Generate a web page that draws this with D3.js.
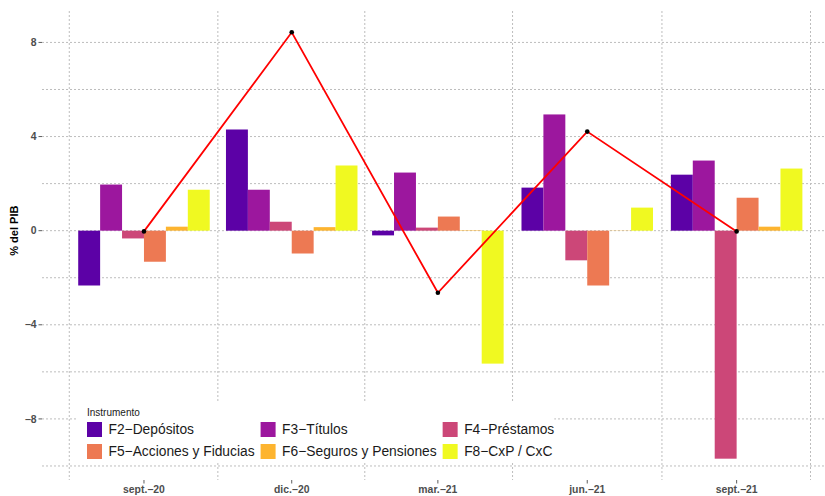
<!DOCTYPE html>
<html>
<head>
<meta charset="utf-8">
<script src="https://cdn.jsdelivr.net/npm/d3@7"></script>
<style>
  body { margin: 0; background: #fff; }
  svg { display: block; font-family: "Liberation Sans", Arial, Helvetica, sans-serif; }
  .grid line { stroke: #bdbdbd; stroke-width: 1; stroke-dasharray: 2,2; }
  .tick-label { fill: #4d4d4d; font-weight: bold; font-size: 10.4px; }
</style>
</head>
<body>
<svg id="chart"></svg>
<script>
// data (% del PIB)
var periodLabels = ["sept.\u221220", "dic.\u221220", "mar.\u221221", "jun.\u221221", "sept.\u221221"];
var periodDates = ["2020-09-01", "2020-12-01", "2021-03-01", "2021-06-01", "2021-09-01"];
var instruments = ["F2\u2212Dep\u00f3sitos", "F3\u2212T\u00edtulos", "F4\u2212Pr\u00e9stamos",
                   "F5\u2212Acciones y Fiducias", "F6\u2212Seguros y Pensiones", "F8\u2212CxP / CxC"];
var instrumentColors = ["#5c01a6", "#9c179e", "#cc4778", "#ed7953", "#fdb42f", "#f0f921"];
var f2 = [-2.33, 4.30, -0.20, 1.83, 2.38];
var f3 = [1.96, 1.74, 2.47, 4.94, 2.98];
var f4 = [-0.33, 0.38, 0.13, -1.26, -9.69];
var f5 = [-1.32, -0.97, 0.60, -2.33, 1.40];
var f6 = [0.17, 0.15, 0.02, 0.01, 0.17];
var f8 = [1.74, 2.77, -5.65, 0.98, 2.64];
var total = [-0.03, 8.43, -2.64, 4.21, -0.03];
var yTicks = [-8, -4, 0, 4, 8];

var series = [f2, f3, f4, f5, f6, f8];
var parseDate = d3.timeParse("%Y-%m-%d");
var dates = periodDates.map(parseDate);

var rows = [];
dates.forEach(function (d, i) {
    series.forEach(function (s, j) {
        rows.push({ date: d, key: instruments[j], value: s[i] });
    });
});

//layout
var svgWidth = 825, svgHeight = 496;
var panel = { left: 42, top: 11, bottom: 480 };
var DAY = 864e5;
var halfBar = 0.9 * 90 / 2; // days (ggplot width = 0.9 * resolution)

var xMin = +dates[0] - halfBar * DAY, xMax = +dates[dates.length - 1] + halfBar * DAY;
var xPad = (xMax - xMin) * 0.05;
var x = d3.scaleTime()
    .domain([new Date(xMin - xPad), new Date(xMax + xPad)])
    .range([panel.left, 838.6]);

var allVals = rows.map(function (r) { return r.value; }).concat(total);
var yMin = d3.min(allVals), yMax = d3.max(allVals);
var yPad = (yMax - yMin) * 0.05;
var y = d3.scaleLinear()
    .domain([yMin - yPad, yMax + yPad])
    .range([panel.bottom, panel.top]);

var groupW = x(new Date(+dates[0] + halfBar * DAY)) - x(new Date(+dates[0] - halfBar * DAY));
var sub = d3.scaleBand().domain(instruments).range([-groupW / 2, groupW / 2]);
var color = d3.scaleOrdinal().domain(instruments).range(instrumentColors);

var svg = d3.select("#chart").attr("width", svgWidth).attr("height", svgHeight);

// grid
var grid = svg.append("g").attr("class", "grid");
var yGrid = d3.range(Math.ceil(y.domain()[0] / 2) * 2, y.domain()[1], 2);
grid.selectAll(".hg").data(yGrid).enter().append("line")
    .attr("x1", panel.left).attr("x2", svgWidth)
    .attr("y1", function (d) { return y(d); }).attr("y2", function (d) { return y(d); });

// minor breaks: halfway between the quarterly breaks
var quarters = d3.timeMonth.range(new Date(2020, 5, 1), new Date(2021, 11, 2), 3);
var mids = d3.pairs(quarters).map(function (p) { return new Date((+p[0] + +p[1]) / 2); });
grid.selectAll(".vg").data(mids).enter().append("line")
    .attr("x1", function (d) { return x(d); }).attr("x2", function (d) { return x(d); })
    .attr("y1", panel.top).attr("y2", panel.bottom);

// bars
svg.append("g").selectAll("rect").data(rows).enter().append("rect")
    .attr("x", function (d) { return x(d.date) + sub(d.key); })
    .attr("width", sub.bandwidth())
    .attr("y", function (d) { return y(Math.max(0, d.value)); })
    .attr("height", function (d) { return Math.abs(y(d.value) - y(0)); })
    .style("fill", function (d) { return color(d.key); });

// axes
var yAxis = svg.append("g");
yAxis.selectAll("line").data(yTicks).enter().append("line")
    .attr("x1", panel.left - 3.5).attr("x2", panel.left)
    .attr("y1", function (d) { return y(d); }).attr("y2", function (d) { return y(d); })
    .attr("stroke", "#333").attr("stroke-width", 0.8);
yAxis.selectAll("text").data(yTicks).enter().append("text")
    .attr("class", "tick-label")
    .attr("x", panel.left - 5.5)
    .attr("y", function (d) { return y(d); })
    .attr("dy", "0.35em")
    .attr("text-anchor", "end")
    .text(function (d) { return d < 0 ? "\u2212" + Math.abs(d) : d; });

svg.append("text")
    .attr("transform", "translate(" + [18, y(0)] + ") rotate(-90)")
    .attr("text-anchor", "middle")
    .style("font-size", "11px").style("font-weight", "bold")
    .text("% del PIB");

var xAxis = svg.append("g");
xAxis.selectAll("line").data(dates).enter().append("line")
    .attr("x1", function (d) { return x(d); }).attr("x2", function (d) { return x(d); })
    .attr("y1", panel.bottom).attr("y2", panel.bottom + 3.5)
    .attr("stroke", "#333").attr("stroke-width", 0.8);
xAxis.selectAll("text").data(dates).enter().append("text")
    .attr("class", "tick-label")
    .attr("x", function (d) { return x(d); })
    .attr("y", 493)
    .attr("text-anchor", "middle")
    .text(function (d, i) { return periodLabels[i]; });

// legend
var legend = svg.append("g").attr("transform", "translate(" + [87, 416] + ")");
var legendBg = legend.append("rect").attr("fill", "#fff");
legend.append("text").attr("y", 0).style("font-size", "10px").style("fill", "#1a1a1a").text("Instrumento");
var keySize = 15, rowGap = 22;
var items = legend.selectAll(".item").data(instruments).enter().append("g");
items.append("rect")
    .attr("width", keySize).attr("height", keySize)
    .attr("fill", function (d) { return color(d); });
items.append("text")
    .attr("x", keySize + 6.5).attr("y", keySize / 2)
    .attr("dy", "0.36em")
    .style("font-size", "13.8px").style("fill", "#1a1a1a")
    .text(function (d) { return d; });
var widths = [];
items.each(function (d, i) {
    var w = this.querySelector("text").getComputedTextLength() + keySize + 6.5;
    var c = i % 3;
    widths[c] = Math.max(widths[c] || 0, w);
});
var colX = [0];
for (var c = 1; c < 3; c++) colX[c] = colX[c - 1] + widths[c - 1] + 6;
items.attr("transform", function (d, i) {
    return "translate(" + [colX[i % 3], 6 + Math.floor(i / 3) * rowGap] + ")";
});
legendBg.attr("x", -10).attr("y", -14)
    .attr("width", colX[2] + widths[2] + 10)
    .attr("height", 61);

// total line
var line = d3.line()
    .x(function (d, i) { return x(dates[i]); })
    .y(function (d) { return y(d); });
svg.append("path").datum(total)
    .attr("d", line)
    .attr("fill", "none").attr("stroke", "#ff0000").attr("stroke-width", 1.8);
svg.append("g").selectAll("circle").data(total).enter().append("circle")
    .attr("cx", function (d, i) { return x(dates[i]); })
    .attr("cy", function (d) { return y(d); })
    .attr("r", 2.3).attr("fill", "#000");
</script>
</body>
</html>
